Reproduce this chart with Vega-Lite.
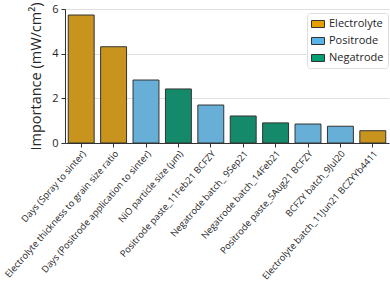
{
  "$schema": "https://vega.github.io/schema/vega-lite/v6.json",
  "width": 324,
  "height": 134,
  "autosize": "none",
  "padding": {"left": 65, "top": 9, "right": 1, "bottom": 147},
  "background": "white",
  "config": {
    "font": "Open Sans",
    "view": {"stroke": null},
    "axis": {"labelColor": "#262626", "titleColor": "#262626", "domainColor": "#333333", "tickColor": "#333333"}
  },
  "data": {
    "values": [
      {"feature": "Days (Spray to sinter)", "importance": 5.73, "group": "Electrolyte"},
      {"feature": "Electrolyte thickness to grain size ratio", "importance": 4.31, "group": "Electrolyte"},
      {"feature": "Days (Positrode application to sinter)", "importance": 2.82, "group": "Positrode"},
      {"feature": "NiO particle size (µm)", "importance": 2.42, "group": "Negatrode"},
      {"feature": "Positrode paste_11Feb21 BCFZY", "importance": 1.70, "group": "Positrode"},
      {"feature": "Negatrode batch_ 9Sep21", "importance": 1.21, "group": "Negatrode"},
      {"feature": "Negatrode batch_14Feb21", "importance": 0.90, "group": "Negatrode"},
      {"feature": "Positrode paste_5Aug21 BCFZY", "importance": 0.85, "group": "Positrode"},
      {"feature": "BCFZY batch_9Jul20", "importance": 0.75, "group": "Positrode"},
      {"feature": "Electrolyte batch_11Jun21 BCZYYb4411", "importance": 0.55, "group": "Electrolyte"}
    ]
  },
  "encoding": {
    "x": {
      "field": "feature", "type": "nominal", "sort": null,
      "scale": {"paddingInner": 0.2, "paddingOuter": 0.1},
      "axis": {"title": null, "labelAngle": -48.5, "labelAlign": "right", "labelBaseline": "top", "labelFontSize": 9.3, "labelLimit": 300, "tickSize": 4, "domainWidth": 1, "labelPadding": 2}
    },
    "y": {
      "field": "importance", "type": "quantitative",
      "scale": {"domain": [0, 6], "nice": false},
      "axis": {"title": "Importance (mW/cm²)", "titleFontSize": 14.5, "titleFontWeight": "normal", "titlePadding": 8, "labelFontSize": 11, "values": [0, 2, 4, 6], "tickSize": 4, "gridColor": "#e0e0e0", "gridWidth": 1, "labelPadding": 3}
    }
  },
  "layer": [
    {
      "mark": {"type": "bar", "stroke": "#333333", "strokeWidth": 1},
      "encoding": {
        "fill": {
          "field": "group", "type": "nominal",
          "scale": {"domain": ["Electrolyte", "Positrode", "Negatrode"], "range": ["#C9941D", "#68AFD7", "#148A6A"]},
          "legend": null
        }
      }
    },
    {
      "mark": {"type": "bar", "opacity": 0},
      "encoding": {
        "fill": {
          "field": "group", "type": "nominal",
          "scale": {"domain": ["Electrolyte", "Positrode", "Negatrode"], "range": ["#E69F00", "#56B4E9", "#009E73"]},
          "legend": {
            "title": null, "orient": "none", "legendX": 242, "legendY": 4,
            "symbolType": "M-1,-0.54H1V0.54H-1Z", "symbolSize": 169,
            "symbolOpacity": 1, "symbolStrokeColor": "#333333", "symbolStrokeWidth": 1,
            "labelFontSize": 11, "labelColor": "#262626", "rowPadding": 4, "labelOffset": 4,
            "fillColor": "white", "strokeColor": "#dddddd", "cornerRadius": 3, "padding": 4
          }
        }
      }
    }
  ],
  "resolve": {"scale": {"fill": "independent"}, "legend": {"fill": "independent"}}
}
